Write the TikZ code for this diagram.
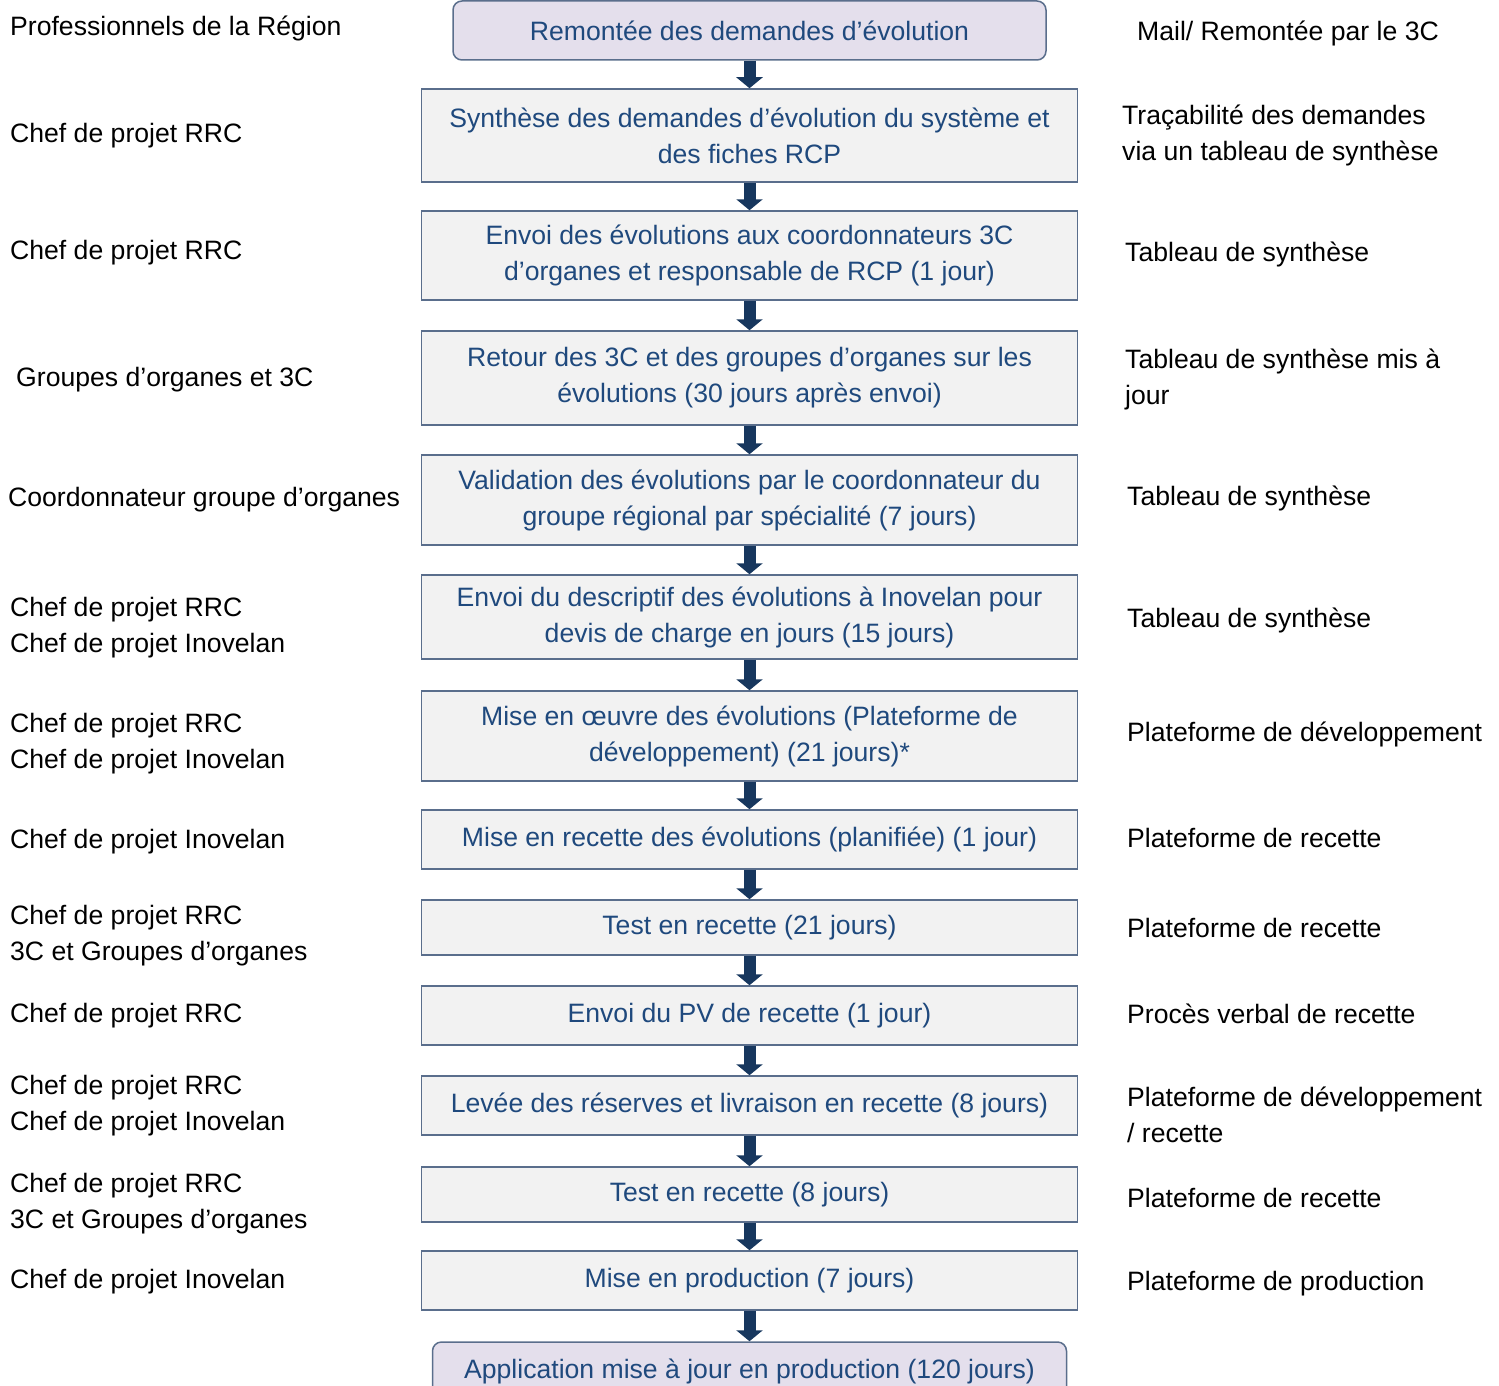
\documentclass[tikz,border=0pt]{standalone}
\usepackage{fontspec}
\setmainfont{Liberation Sans}
\usepackage{tikz}
\usetikzlibrary{arrows.meta}

\definecolor{texteBleu}{RGB}{31,73,125}
\definecolor{flecheBleu}{RGB}{23,55,94}
\definecolor{bordBleu}{RGB}{90,110,140}
\definecolor{fondGris}{RGB}{242,242,242}
\definecolor{fondMauve}{RGB}{228,223,236}

\begin{document}
\begin{tikzpicture}[x=1pt,y=-1pt,
        font=\fontsize{26.6}{36}\selectfont,
        etape/.style={draw=bordBleu,line width=1.5pt,fill=fondGris,text=texteBleu,
          align=center,inner sep=0pt,minimum width=656pt},
        bout/.style={etape,fill=fondMauve,rounded corners=9pt},
        acteur/.style={anchor=west,align=left,inner sep=0pt,yshift=-3pt},
        fleche/.style={-{Triangle[width=26pt,length=11pt]},line width=12pt,flecheBleu}]

  \useasboundingbox (0,0) rectangle (1499,1386);

  % etapes
  \node[bout,minimum width=593pt,minimum height=59pt] (b1) at (749.5,30.5) {Remontée des demandes d’évolution};
  \node[etape,minimum height=93pt] (b2) at (749.5,135.5) {Synthèse des demandes d’évolution du système et\\des fiches RCP};
  \node[etape,minimum height=89pt] (b3) at (749.5,255.5) {Envoi des évolutions aux coordonnateurs 3C\\d’organes et responsable de RCP (1 jour)};
  \node[etape,minimum height=94pt] (b4) at (749.5,378) {Retour des 3C et des groupes d’organes sur les\\évolutions (30 jours après envoi)};
  \node[etape,minimum height=90pt] (b5) at (749.5,500) {Validation des évolutions par le coordonnateur du\\groupe régional par spécialité (7 jours)};
  \node[etape,minimum height=84pt] (b6) at (749.5,617) {Envoi du descriptif des évolutions à Inovelan pour\\devis de charge en jours (15 jours)};
  \node[etape,minimum height=90pt] (b7) at (749.5,736) {Mise en œuvre des évolutions (Plateforme de\\développement) (21 jours)*};
  \node[etape,minimum height=59pt] (b8) at (749.5,839.5) {Mise en recette des évolutions (planifiée) (1 jour)};
  \node[etape,minimum height=55pt] (b9) at (749.5,927.5) {Test en recette (21 jours)};
  \node[etape,minimum height=59pt] (b10) at (749.5,1015.5) {Envoi du PV de recette (1 jour)};
  \node[etape,minimum height=59pt] (b11) at (749.5,1105.5) {Levée des réserves et livraison en recette (8 jours)};
  \node[etape,minimum height=55pt] (b12) at (749.5,1194.5) {Test en recette (8 jours)};
  \node[etape,minimum height=59pt] (b13) at (749.5,1280.5) {Mise en production (7 jours)};
  \node[bout,minimum width=634pt,minimum height=59pt] (b14) at (749.5,1371.5) {Application mise à jour en production (120 jours)};

  % acteurs
  \node[acteur] (a1) at (10,25) {Professionnels de la Région};
  \node[acteur] (a2) at (10,133) {Chef de projet RRC};
  \node[acteur] (a3) at (10,250) {Chef de projet RRC};
  \node[acteur] (a4) at (16,377) {Groupes d’organes et 3C};
  \node[acteur] (a5) at (8,497) {Coordonnateur groupe d’organes};
  \node[acteur] (a6) at (10,624.5) {Chef de projet RRC\\Chef de projet Inovelan};
  \node[acteur] (a7) at (10,740.5) {Chef de projet RRC\\Chef de projet Inovelan};
  \node[acteur] (a8) at (10,839) {Chef de projet Inovelan};
  \node[acteur] (a9) at (10,932.5) {Chef de projet RRC\\3C et Groupes d’organes};
  \node[acteur] (a10) at (10,1013) {Chef de projet RRC};
  \node[acteur] (a11) at (10,1102.5) {Chef de projet RRC\\Chef de projet Inovelan};
  \node[acteur] (a12) at (10,1200.5) {Chef de projet RRC\\3C et Groupes d’organes};
  \node[acteur] (a13) at (10,1279) {Chef de projet Inovelan};

  % outils
  \node[acteur] (o1) at (1137,30) {Mail/ Remontée par le 3C};
  \node[acteur] (o2) at (1122,132) {Traçabilité des demandes\\via un tableau de synthèse};
  \node[acteur] (o3) at (1125,251) {Tableau de synthèse};
  \node[acteur] (o4) at (1125,376.5) {Tableau de synthèse mis à\\jour};
  \node[acteur] (o5) at (1127,495) {Tableau de synthèse};
  \node[acteur] (o6) at (1127,617) {Tableau de synthèse};
  \node[acteur] (o7) at (1127,731) {Plateforme de développement};
  \node[acteur] (o8) at (1127,835) {Plateforme de recette};
  \node[acteur] (o9) at (1127,925) {Plateforme de recette};
  \node[acteur] (o10) at (1127,1011) {Procès verbal de recette};
  \node[acteur] (o11) at (1127,1111.5) {Plateforme de développement\\/ recette};
  \node[acteur] (o12) at (1127,1195) {Plateforme de recette};
  \node[acteur] (o13) at (1127,1281) {Plateforme de production};

  \path[fleche] (b1) edge (b2)
        (b2) edge (b3)
        (b3) edge (b4)
        (b4) edge (b5)
        (b5) edge (b6)
        (b6) edge (b7)
        (b7) edge (b8)
        (b8) edge (b9)
        (b9) edge (b10)
        (b10) edge (b11)
        (b11) edge (b12)
        (b12) edge (b13)
        (b13) edge (b14);

\end{tikzpicture}
\end{document}
